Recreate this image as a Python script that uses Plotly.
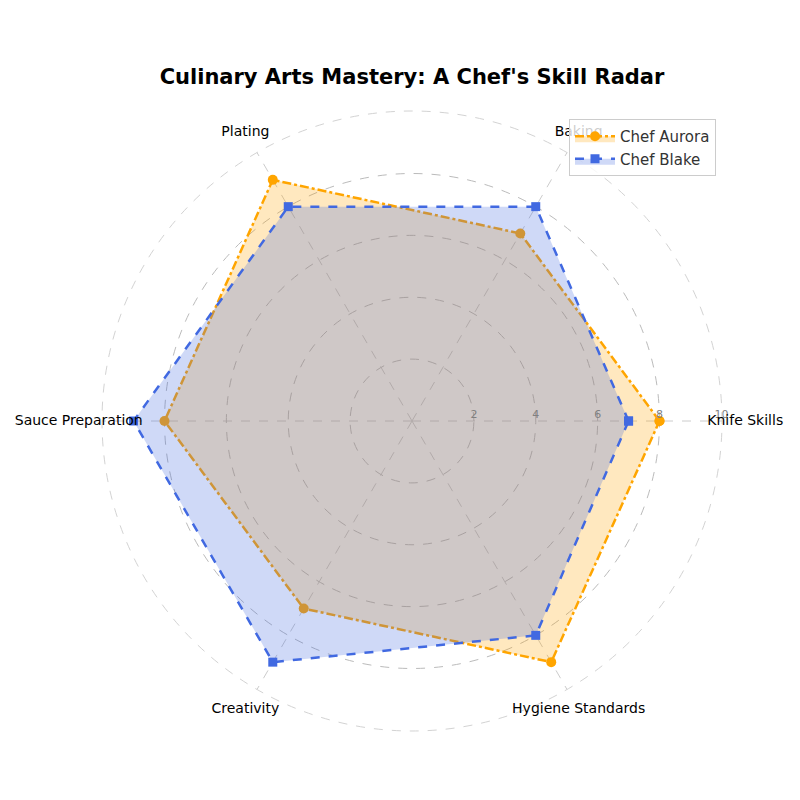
import plotly.graph_objects as go

categories = ["Knife Skills", "Baking", "Plating", "Sauce Preparation", "Creativity", "Hygiene Standards"]
aurora = [8, 7, 9, 8, 7, 9]
blake = [7, 8, 8, 9, 9, 8]
radial_ticks = [2, 4, 6, 8, 10]
label_radius = 10.75

W = H = 800
CX, CY, R = 412, 421, 310          # centre and radius (pixels) of the r=10 circle
OUTER = 11.0                        # range of the overlay subplot used for labels / outer ring
R2 = R * OUTER / 10


def closed(v):
    return list(v) + [v[0]]


def dom(cx, cy, r):
    return dict(x=[(cx - r) / W, (cx + r) / W], y=[(H - cy - r) / H, (H - cy + r) / H])


fig = go.Figure()
fig.add_trace(go.Scatterpolar(
    r=closed(aurora), theta=closed(categories), name="Chef Aurora",
    mode="lines+markers", fill="toself", fillcolor="rgba(255,165,0,0.25)",
    line=dict(color="#FFA500", width=2.5, dash="dashdot"),
    marker=dict(symbol="circle", size=10, color="#FFA500"),
))
fig.add_trace(go.Scatterpolar(
    r=closed(blake), theta=closed(categories), name="Chef Blake",
    mode="lines+markers", fill="toself", fillcolor="rgba(65,105,225,0.25)",
    line=dict(color="#4169E1", width=2.5, dash="dash"),
    marker=dict(symbol="square", size=9, color="#4169E1"),
))
fig.add_trace(go.Scatterpolar(
    r=[label_radius] * len(categories), theta=categories, mode="text",
    text=categories, textfont=dict(size=14, color="black", family="DejaVu Sans"),
    textposition="middle center", showlegend=False, hoverinfo="skip",
    subplot="polar2",
))

fig.update_layout(
    width=W, height=H,
    paper_bgcolor="white", plot_bgcolor="white",
    font=dict(family="DejaVu Sans", color="black"),
    margin=dict(l=0, r=0, t=0, b=0),
    title=dict(text="<b>Culinary Arts Mastery: A Chef's Skill Radar</b>",
               x=412/800, xanchor="center", y=1-77/800, yanchor="middle",
               font=dict(size=21, family="DejaVu Sans", color="black")),
    polar=dict(
        domain=dom(CX, CY, R),
        bgcolor="white",
        radialaxis=dict(range=[0, 10.02], tickvals=radial_ticks, angle=0,
                        side="counterclockwise",
                        tickfont=dict(size=11, color="gray"),
                        showline=False, ticks="",
                        gridcolor="#bbbbbb", griddash="dash", gridwidth=1),
        angularaxis=dict(direction="counterclockwise", rotation=0,
                         showticklabels=False,
                         showline=False, ticks="",
                         gridcolor="#cccccc", griddash="dash", gridwidth=1),
    ),
    polar2=dict(
        domain=dom(CX, CY, R2),
        bgcolor="rgba(0,0,0,0)",
        radialaxis=dict(range=[0, OUTER], tickvals=[10], showticklabels=False,
                        showline=False, ticks="",
                        gridcolor="#d3d3d3", griddash="dash", gridwidth=1),
        angularaxis=dict(direction="counterclockwise", rotation=0,
                         categoryarray=categories, categoryorder="array",
                         showticklabels=False, showgrid=False,
                         showline=False, ticks=""),
    ),
    legend=dict(x=716/W, xanchor="right", y=1-119/H, yanchor="top",
                bgcolor="rgba(255,255,255,0.8)", bordercolor="#cccccc", borderwidth=1,
                font=dict(size=15, color="#333333"), tracegroupgap=0,
                itemwidth=40),
)

fig.write_html("out.html")
